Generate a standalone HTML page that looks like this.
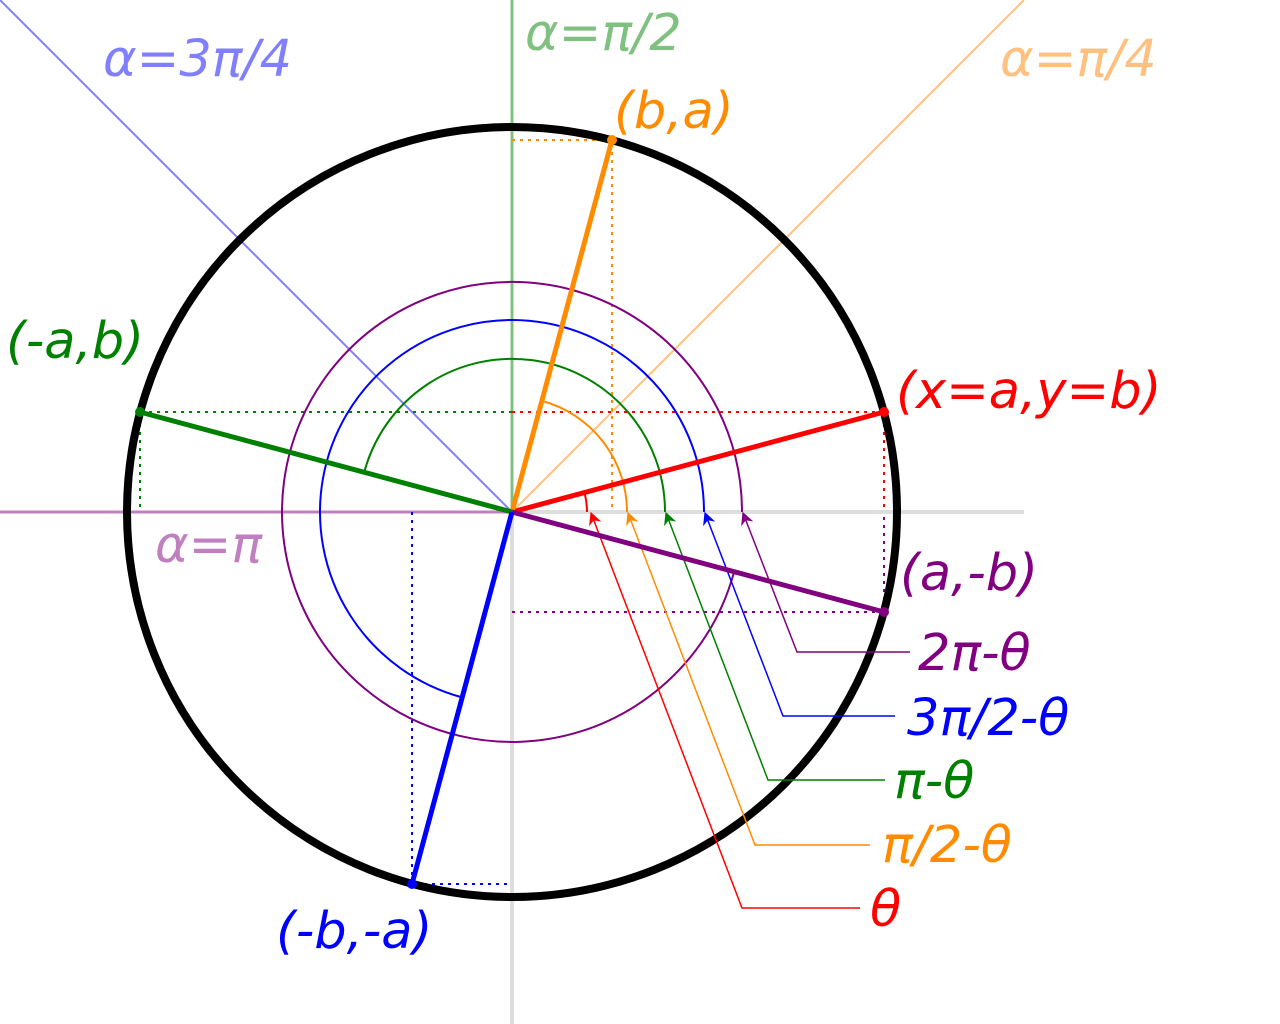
<!DOCTYPE html>
<html><head><style>html,body{margin:0;padding:0;background:#fff}svg{display:block}text{font-family:"DejaVu Sans","Liberation Sans",sans-serif;font-style:italic;font-size:51px}</style></head>
<body>
<svg width="1280" height="1024" viewBox="0 0 1280 1024" xmlns="http://www.w3.org/2000/svg">
<defs>
<marker id="ar" viewBox="0 0 10 10" refX="9" refY="5" markerWidth="15" markerHeight="13" orient="auto" markerUnits="userSpaceOnUse"><path d="M0,0 L10,5 L0,10 L3,5 z" fill="context-stroke"/></marker>
</defs>
<line x1="512" y1="512" x2="1024" y2="512" stroke="#ddd" stroke-width="4"/>
<line x1="512" y1="512" x2="512" y2="1024" stroke="#ddd" stroke-width="4"/>
<line x1="0" y1="512" x2="512" y2="512" stroke="#c080c0" stroke-width="3"/>
<line x1="512" y1="0" x2="512" y2="512" stroke="#80c080" stroke-width="3"/>
<line x1="512" y1="512" x2="1024" y2="0" stroke="#ffc080" stroke-width="2"/>
<line x1="512" y1="512" x2="0" y2="0" stroke="#8080ff" stroke-width="2"/>
<g stroke-width="2" stroke-dasharray="3,5" fill="none">
<path d="M512,412H884V512" stroke="red"/>
<path d="M512,140H612V512" stroke="#ff8c00"/>
<path d="M512,412H140V512" stroke="green"/>
<path d="M512,612H884V512" stroke="purple"/>
<path d="M412,512V884H512" stroke="blue"/>
</g>
<circle cx="512" cy="512" r="385" fill="none" stroke="#000" stroke-width="8"/>
<g fill="none" stroke-width="2">
<path d="M584.4,492.6 A75,75 0 0 1 587,512" stroke="red"/>
<path d="M541.9,400.9 A115,115 0 0 1 627,512" stroke="#ff8c00"/>
<path d="M364.2,472.3 A153,153 0 0 1 665,512" stroke="green"/>
<path d="M462.1,697.4 A192,192 0 1 1 704,512" stroke="blue"/>
<path d="M734.1,571.7 A230,230 0 1 1 742,512" stroke="purple"/>
</g>
<g fill="none" stroke-width="1.5">
<path d="M860,908H742L591,513" stroke="red" marker-end="url(#ar)"/>
<path d="M870,845H755L628,513" stroke="#ff8c00" marker-end="url(#ar)"/>
<path d="M885,780H768L666,513" stroke="green" marker-end="url(#ar)"/>
<path d="M895,716H783L705,513" stroke="blue" marker-end="url(#ar)"/>
<path d="M910,652H797L743,513" stroke="purple" marker-end="url(#ar)"/>
</g>
<g stroke-width="5">
<line x1="512" y1="512" x2="884" y2="412" stroke="red"/>
<line x1="512" y1="512" x2="612" y2="140" stroke="#ff8c00"/>
<line x1="512" y1="512" x2="140" y2="412" stroke="green"/>
<line x1="512" y1="512" x2="884" y2="612" stroke="purple"/>
<line x1="512" y1="512" x2="412" y2="884" stroke="blue"/>
</g>
<circle cx="884" cy="412" r="5" fill="red"/>
<circle cx="612" cy="140" r="5" fill="#ff8c00"/>
<circle cx="140" cy="412" r="5" fill="green"/>
<circle cx="884" cy="612" r="5" fill="purple"/>
<circle cx="412" cy="884" r="5" fill="blue"/>
<text x="103" y="76" fill="#8080ff">α=3π/4</text>
<text x="525" y="50" fill="#80c080">α=π/2</text>
<text x="1000" y="76" fill="#ffc080">α=π/4</text>
<text x="155" y="562" fill="#c080c0">α=π</text>
<text x="614" y="128" fill="#ff8c00">(b,a)</text>
<text x="6" y="358" fill="green">(-a,b)</text>
<text x="896" y="408" fill="red">(x=a,y=b)</text>
<text x="900" y="590" fill="purple">(a,-b)</text>
<text x="276" y="948" fill="blue">(-b,-a)</text>
<text x="918" y="670" fill="purple">2π-θ</text>
<text x="907" y="735" fill="blue">3π/2-θ</text>
<text x="894" y="798" fill="green">π-θ</text>
<text x="882" y="862" fill="#ff8c00">π/2-θ</text>
<text x="870" y="926" fill="red">θ</text>
</svg>
</body></html>
